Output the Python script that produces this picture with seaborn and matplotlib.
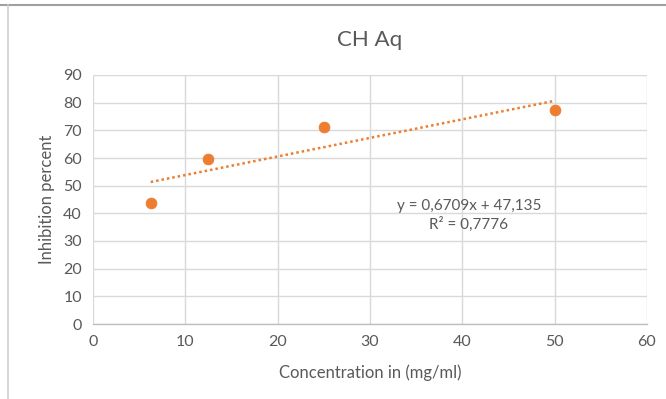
import matplotlib
matplotlib.use("Agg")
import matplotlib.pyplot as plt
import seaborn as sns
import numpy as np
import pandas as pd
from matplotlib.lines import Line2D

concentration = [6.25, 12.5, 25, 50]
inhibition = [43.6, 59.6, 71.1, 77.2]
slope = 0.6709
intercept = 47.135
eq_text = "y = 0,6709x + 47,135\nR² = 0,7776"
x_ticks = [0, 10, 20, 30, 40, 50, 60]
y_ticks = [0, 10, 20, 30, 40, 50, 60, 70, 80, 90]

sns.set_style("white")
plt.rcParams['font.family'] = ['Lato', 'DejaVu Sans']

orange = "#ED7D31"
gray_text = "#595959"

fig = plt.figure(figsize=(6.66, 3.99), dpi=100)
ax = fig.add_axes([93/666, 1-324/399, (647-93)/666, (324-75)/399])

df = pd.DataFrame({"x": concentration, "y": inhibition})
xt = np.array([min(concentration), max(concentration)])
trend = pd.DataFrame({"x": xt, "y": slope*xt + intercept})
sns.lineplot(data=trend, x="x", y="y", ax=ax, color=orange, linestyle=(0, (1, 1.2)), linewidth=1.8, zorder=3)
sns.scatterplot(data=df, x="x", y="y", ax=ax, color=orange, s=60, edgecolor=orange, zorder=4)

ax.set_xlim(0, 60)
ax.set_ylim(0, 90)
ax.set_xticks(x_ticks)
ax.set_yticks(y_ticks)
ax.grid(True, color="#d9d9d9", linewidth=1)
ax.set_axisbelow(True)
for s in ["top", "right", "left"]:
    ax.spines[s].set_visible(False)
ax.spines["bottom"].set_color("#bfbfbf")
ax.spines["bottom"].set_linewidth(1)
ax.tick_params(axis="both", length=0, labelsize=11.5, labelcolor=gray_text, pad=8)
ax.set_xlabel("Concentration in (mg/ml)", fontsize=12, color=gray_text, labelpad=11)
ax.set_ylabel("Inhibition percent", fontsize=12, color=gray_text, labelpad=6)
ax.set_title("CH Aq", fontsize=16, color=gray_text, pad=21)

ax.text(40.7, 39.3, eq_text, ha="center", va="center", fontsize=11, color=gray_text, linespacing=1.35)

# document frame lines
fig.add_artist(Line2D([0, 1], [1-5/399, 1-5/399], color="#a0a0a0", linewidth=1.5, transform=fig.transFigure))
fig.add_artist(Line2D([8/666, 8/666], [0, 1-5/399], color="#d0d0d0", linewidth=1.2, transform=fig.transFigure))

fig.savefig("out.png", dpi=100)
